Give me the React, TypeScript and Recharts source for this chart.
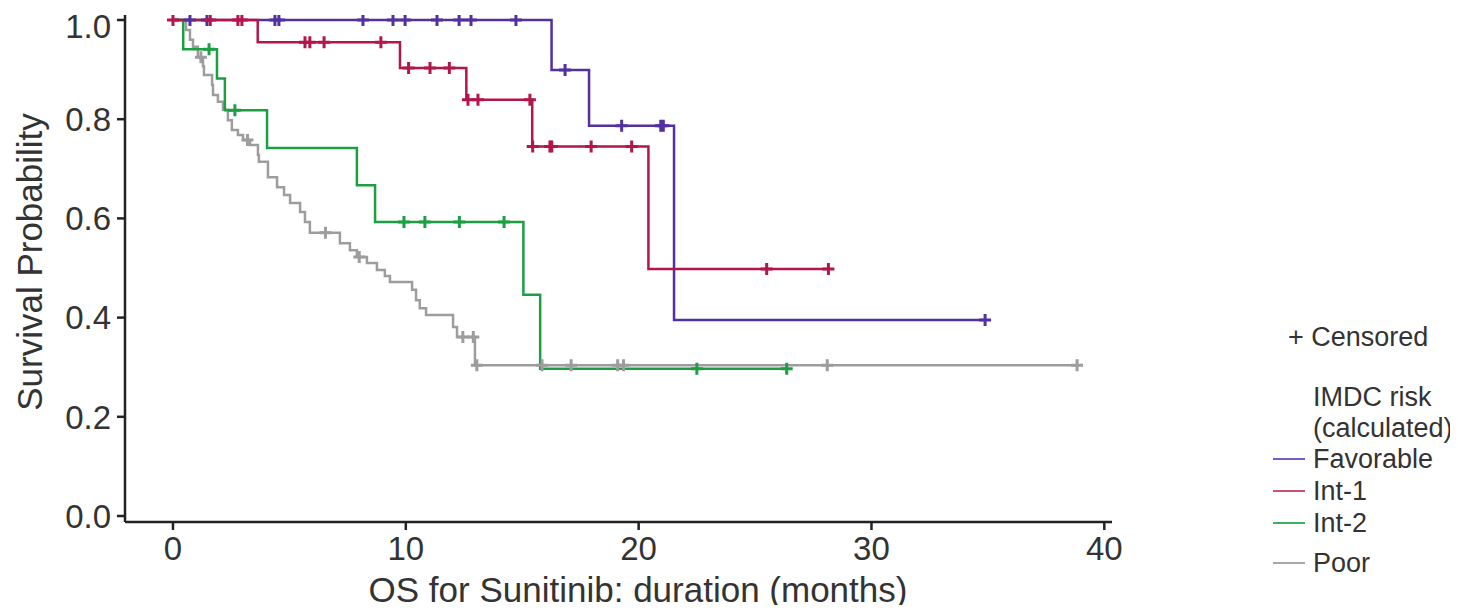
import React from 'react';
import { ComposedChart, Line, XAxis, YAxis } from 'recharts';

// ---- Data (months, survival probability) ----
const favorableEventTimes = [0, 16.26, 17.87, 21.52];
const favorableSurvival = [1, 0.899, 0.787, 0.395];
const favorableCensorTimes = [0.73, 1.46, 4.38, 4.55, 8.16, 9.45, 9.97, 11.34, 12.29, 12.8, 14.73, 16.84, 19.27, 20.95, 21.06, 34.88];

const int1EventTimes = [0, 3.64, 9.75, 12.6, 15.43, 20.42];
const int1Survival = [1, 0.955, 0.903, 0.839, 0.745, 0.498];
const int1CensorTimes = [0, 1.6, 2.79, 2.96, 5.67, 5.88, 6.49, 8.93, 10.12, 11.04, 11.87, 12.67, 13.1, 15.33, 15.45, 16.19, 16.27, 17.96, 19.7, 25.5, 28.15];

const int2EventTimes = [0, 0.44, 1.89, 2.23, 4.04, 7.9, 8.68, 15.05, 15.77];
const int2Survival = [1, 0.941, 0.882, 0.818, 0.742, 0.667, 0.593, 0.446, 0.297];
const int2CensorTimes = [1.55, 2.66, 9.92, 10.82, 12.3, 14.22, 22.5, 26.36];

const poorEventTimes = [0, 0.56, 0.73, 0.86, 1.07, 1.29, 1.33, 1.68, 1.72, 1.93, 2.15, 2.36, 2.53, 2.79, 3.01, 3.31, 3.65, 3.69, 4.08, 4.47, 4.77, 5.03, 5.46, 5.67, 5.88, 7.17, 7.6, 7.9, 8.33, 8.76, 9.1, 9.32, 10.27, 10.44, 10.6, 10.87, 12.03, 12.2, 12.97];
const poorSurvival = [1, 0.98, 0.96, 0.946, 0.925, 0.907, 0.889, 0.869, 0.849, 0.835, 0.819, 0.798, 0.778, 0.768, 0.758, 0.748, 0.728, 0.714, 0.683, 0.663, 0.647, 0.631, 0.613, 0.593, 0.571, 0.55, 0.536, 0.522, 0.51, 0.496, 0.484, 0.472, 0.456, 0.435, 0.419, 0.405, 0.381, 0.361, 0.304];
const poorCensorTimes = [1.2, 3.2, 6.55, 8.0, 12.45, 12.9, 13.05, 15.85, 17.1, 19.1, 19.35, 28.1, 38.83];

const xTicks = [0, 10, 20, 30, 40];
const yTicks = [0, 0.2, 0.4, 0.6, 0.8, 1.0];

const groupNames = ['Favorable', 'Int-1', 'Int-2', 'Poor'];
const groupColors = ['#5230a0', '#b3164a', '#1c9e42', '#9d9d9d'];
const legendSwatchColors = ['#7a5cc0', '#cc5070', '#3db060', '#a8a8a8'];

function buildKM(times: number[], surv: number[], censors: number[]) {
  const all = Array.from(new Set([...times, ...censors])).sort((a, b) => a - b);
  return all.map((t) => {
    let s = surv[0];
    for (let i = 0; i < times.length; i++) if (times[i] <= t) s = surv[i];
    return { t, s, c: censors.includes(t) };
  });
}

const favorableData = buildKM(favorableEventTimes, favorableSurvival, favorableCensorTimes);
const int1Data = buildKM(int1EventTimes, int1Survival, int1CensorTimes);
const int2Data = buildKM(int2EventTimes, int2Survival, int2CensorTimes);
const poorData = buildKM(poorEventTimes, poorSurvival, poorCensorTimes);

const FONT = '"Liberation Sans", Arial, Helvetica, sans-serif';

const censorDot = (color: string) => (p: any) => {
  const { cx, cy, payload, index } = p;
  if (!payload || !payload.c || cx == null || cy == null) return <g key={`n${index}`} />;
  return (
    <path
      key={`c${index}`}
      d={`M${cx - 6},${cy}h12M${cx},${cy - 6}v12`}
      stroke={color}
      strokeWidth={3}
      fill="none"
    />
  );
};

export default function App() {
  const W = 1442;
  const H = 597;
  const axisStyle = { stroke: '#222', strokeWidth: 2.5 };
  const legendRows = [
    { y: 451, i: 0 },
    { y: 483, i: 1 },
    { y: 515, i: 2 },
    { y: 555, i: 3 },
  ];
  const textStyle: React.CSSProperties = {
    position: 'absolute',
    whiteSpace: 'nowrap',
    fontFamily: FONT,
    color: '#333',
  };
  return (
    <div style={{ position: 'relative', width: W, height: H, fontFamily: FONT }}>
      <ComposedChart width={W} height={H} margin={{ top: 7, right: 338, bottom: 0, left: 0 }}>
        <XAxis
          type="number"
          dataKey="t"
          domain={[-2.06, 40.33]}
          ticks={xTicks}
          allowDataOverflow
          height={83}
          tickSize={8}
          tickMargin={7}
          axisLine={axisStyle}
          tickLine={axisStyle}
          tick={{ fontSize: 33, fill: '#333', fontFamily: FONT }}
        />
        <YAxis
          type="number"
          dataKey="s"
          domain={[-0.0121, 1.0101]}
          ticks={yTicks}
          allowDataOverflow
          width={117}
          tickSize={8}
          tickMargin={6}
          tickFormatter={(v: number) => v.toFixed(1)}
          axisLine={axisStyle}
          tickLine={axisStyle}
          tick={{ fontSize: 33, fill: '#333', fontFamily: FONT }}
        />
        <Line data={poorData} dataKey="s" type="stepAfter" stroke={groupColors[3]} strokeWidth={2.5} dot={censorDot(groupColors[3])} activeDot={false} isAnimationActive={false} />
        <Line data={favorableData} dataKey="s" type="stepAfter" stroke={groupColors[0]} strokeWidth={2.5} dot={censorDot(groupColors[0])} activeDot={false} isAnimationActive={false} />
        <Line data={int2Data} dataKey="s" type="stepAfter" stroke={groupColors[2]} strokeWidth={2.5} dot={censorDot(groupColors[2])} activeDot={false} isAnimationActive={false} />
        <Line data={int1Data} dataKey="s" type="stepAfter" stroke={groupColors[1]} strokeWidth={2.5} dot={censorDot(groupColors[1])} activeDot={false} isAnimationActive={false} />
      </ComposedChart>

      <div style={{ ...textStyle, left: 22, top: 254, fontSize: 35, transform: 'translate(-50%, -50%) rotate(-90deg)' }}>
        Survival Probability
      </div>
      <div style={{ ...textStyle, left: 630, top: 582, fontSize: 35, transform: 'translate(-50%, -50%)' }}>
        OS for Sunitinib: duration (months)
      </div>

      <div style={{ ...textStyle, left: 1280, top: 329, fontSize: 27, lineHeight: '30px', transform: 'translateY(-50%)' }}>
        + Censored
      </div>
      <div style={{ ...textStyle, left: 1305, top: 389, fontSize: 27, lineHeight: '30px', transform: 'translateY(-50%)' }}>
        IMDC risk
      </div>
      <div style={{ ...textStyle, left: 1305, top: 420, fontSize: 27, lineHeight: '30px', transform: 'translateY(-50%)' }}>
        (calculated)
      </div>
      {legendRows.map((r) => (
        <React.Fragment key={r.i}>
          <div
            style={{
              position: 'absolute',
              left: 1265,
              top: r.y - 1,
              width: 32,
              height: 2,
              background: legendSwatchColors[r.i],
            }}
          />
          <div style={{ ...textStyle, left: 1305, top: r.y, fontSize: 27, lineHeight: '30px', transform: 'translateY(-50%)' }}>
            {groupNames[r.i]}
          </div>
        </React.Fragment>
      ))}
    </div>
  );
}
